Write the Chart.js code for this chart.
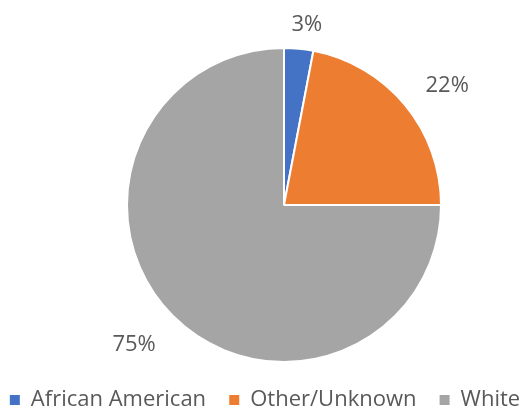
<!DOCTYPE html>
<html>
<head>
<meta charset="utf-8">
<script src="https://cdn.jsdelivr.net/npm/chart.js@4.4.1/dist/chart.umd.min.js"></script>
<style>
  html, body { margin: 0; padding: 0; background: #fff; }
  #wrap { width: 530px; height: 413px; position: relative; }
</style>
</head>
<body>
<div id="wrap"><canvas id="c"></canvas></div>
<script>
// pie data
const categories = ['African American', 'Other/Unknown', 'White'];
const shares = [3, 22, 75];
const sliceColors = ['#4472C4', '#ED7D31', '#A5A5A5'];
// % label placement: distance outside the rim, small angle nudge (deg)
const labelGap = [25, 45, 48];
const labelNudge = [1.8, 3.5, 2];

// pin the plot box so the pie sits where the original one does
const pieBox = {
    id: 'pieBox',
    afterLayout(chart) {
        const a = chart.chartArea;
        a.left = 126; a.right = 442; a.top = 47; a.bottom = 363;
        a.width = a.right - a.left; a.height = a.bottom - a.top;
        // legend sits a little lower in the original
        chart.legend.top += 8;
        chart.legend.bottom += 8;
    }
};

const pctLabels = {
    id: 'pctLabels',
    afterDatasetsDraw(chart) {
        const ctx = chart.ctx;
        const meta = chart.getDatasetMeta(0);
        ctx.save();
        ctx.font = '22px "Open Sans", sans-serif';
        ctx.fillStyle = '#595959';
        ctx.textAlign = 'center';
        ctx.textBaseline = 'middle';
        meta.data.forEach((arc, i) => {
            const mid = (arc.startAngle + arc.endAngle) / 2 + labelNudge[i] * Math.PI / 180;
            const r = arc.outerRadius + labelGap[i];
            const x = arc.x + Math.cos(mid) * r;
            const y = arc.y + Math.sin(mid) * r;
            ctx.fillText(shares[i] + '%', x, y);
        });
        ctx.restore();
    }
};

// legend entries straight from the data, with trailing spaces to widen the
// gap between entries without tripping the legend's row-wrap check
function legendItems(chart) {
    const ds = chart.data.datasets[0];
    return categories.map((name, i) => ({
        text: i < categories.length - 1 ? name + '   ' : name,
        fillStyle: ds.backgroundColor[i],
        strokeStyle: ds.backgroundColor[i],
        lineWidth: 0,
        fontColor: '#595959',
        hidden: false,
        index: i
    }));
}

new Chart(document.getElementById('c'), {
    type: 'pie',
    data: {
        labels: categories,
        datasets: [{
            data: shares,
            backgroundColor: sliceColors,
            borderColor: '#ffffff',
            borderWidth: 2,
            hoverOffset: 0
        }]
    },
    options: {
        responsive: true,
        maintainAspectRatio: false,
        animation: false,
        plugins: {
            tooltip: { enabled: false },
            legend: {
                position: 'bottom',
                labels: {
                    boxWidth: 10,
                    boxHeight: 10,
                    padding: 6,
                    color: '#595959',
                    font: { family: '"Open Sans", sans-serif', size: 22 },
                    generateLabels: legendItems
                }
            }
        }
    },
    plugins: [pieBox, pctLabels]
});
</script>
</body>
</html>
